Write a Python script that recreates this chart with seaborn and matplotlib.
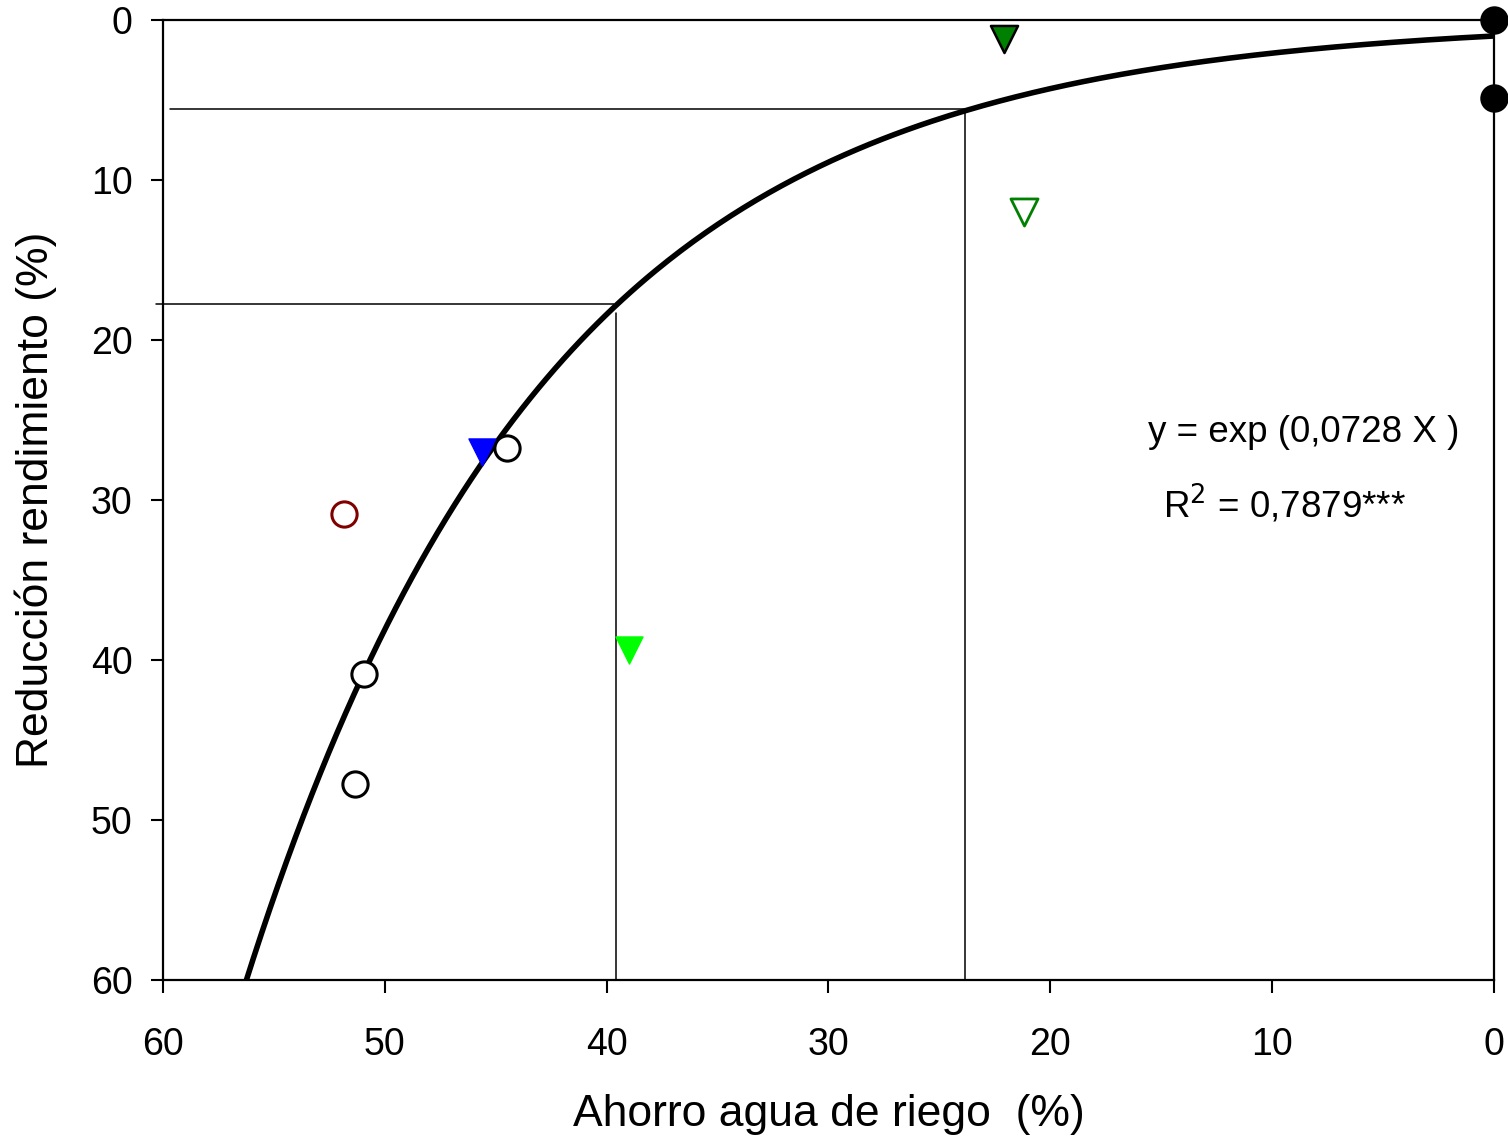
import numpy as np
import pandas as pd
import matplotlib
matplotlib.use("Agg")
import matplotlib.pyplot as plt
import seaborn as sns

# ---- data ----
coef = 0.0728
curve_x = np.linspace(0, 56.5, 300)
curve_y = np.exp(coef * curve_x)

pts_x = [0.0, 0.0, 22.1, 21.2, 45.6, 44.5, 51.85, 50.95, 51.35, 39.0]
pts_y = [0.0, 4.9, 1.2, 12.0, 27.0, 26.75, 30.9, 40.9, 47.75, 39.4]
pts_group = ["black", "black", "dkgreen", "opengreen", "blue", "open", "red", "open", "open", "lime"]

# reference lines: (x_start, x_end, y) horizontal, (x, y_start, y_end) vertical
hlines = [(59.7, 23.85, 5.55), (60.3, 39.65, 17.75)]
vlines = [(39.6, 18.3, 60.0), (23.85, 5.55, 60.0)]

xticks = [60, 50, 40, 30, 20, 10, 0]
yticks = [0, 10, 20, 30, 40, 50, 60]

sns.set_theme(style="white")
plt.rcParams['font.family'] = ['Liberation Sans', 'DejaVu Sans']
plt.rcParams['text.color'] = 'black'
plt.rcParams['axes.labelcolor'] = 'black'

fig = plt.figure(figsize=(15.08, 11.37), dpi=100)
ax = fig.add_axes([0.1081, 0.1381, 0.8826, 0.8443])

df_curve = pd.DataFrame({"x": curve_x, "y": curve_y})
sns.lineplot(data=df_curve, x="x", y="y", ax=ax, color="black", lw=4.0, zorder=3)

for xs, xe, y in hlines:
    ax.plot([xs, xe], [y, y], color="black", lw=1.1, zorder=2, clip_on=False)
for x, ys, ye in vlines:
    ax.plot([x, x], [ys, ye], color="black", lw=1.1, zorder=2, clip_on=False)

df = pd.DataFrame({"x": pts_x, "y": pts_y, "g": pts_group})
styles = {
    "black": dict(marker="o", facecolor="black", edgecolor="black", s=360, lw=1.5),
    "dkgreen": dict(marker="v", facecolor="#008000", edgecolor="black", s=380, lw=1.8),
    "opengreen": dict(marker="v", facecolor="white", edgecolor="#008000", s=380, lw=2),
    "blue": dict(marker="v", facecolor="#0000ff", edgecolor="#0000ff", s=380, lw=1),
    "open": dict(marker="o", facecolor="white", edgecolor="black", s=330, lw=2.2),
    "red": dict(marker="o", facecolor="white", edgecolor="#800000", s=330, lw=2.2),
    "lime": dict(marker="v", facecolor="#00ff00", edgecolor="#00ff00", s=380, lw=1),
}
for g, st in styles.items():
    sub = df[df.g == g]
    sns.scatterplot(data=sub, x="x", y="y", ax=ax, marker=st["marker"], s=st["s"],
                    color=st["facecolor"], edgecolor=st["edgecolor"], linewidth=st["lw"],
                    zorder=5, clip_on=False, legend=False)

ax.set_xlim(60, 0)
ax.set_ylim(60, 0)
ax.set_xticks(xticks)
ax.set_yticks(yticks)
ax.tick_params(axis="both", bottom=True, left=True, direction="out", length=9, width=1.5,
               labelsize=27, color="black", labelcolor="black")
ax.tick_params(axis="x", pad=25)
ax.tick_params(axis="y", pad=13)
for sp in ax.spines.values():
    sp.set_visible(True)
    sp.set_color("black")
    sp.set_linewidth(1.6)

ax.set_xlabel("Ahorro agua de riego  (%)", fontsize=32, labelpad=22)
ax.set_ylabel("Reducción rendimiento (%)", fontsize=32, labelpad=24)

ax.text(15.6, 25.8, "y = exp (0,0728 X )", fontsize=26.5, ha="left", va="center")
ax.text(14.9, 30.3, r"R$^2$ = 0,7879***", fontsize=26.5, ha="left", va="center")

fig.savefig("out.png", dpi=100, facecolor="white")
